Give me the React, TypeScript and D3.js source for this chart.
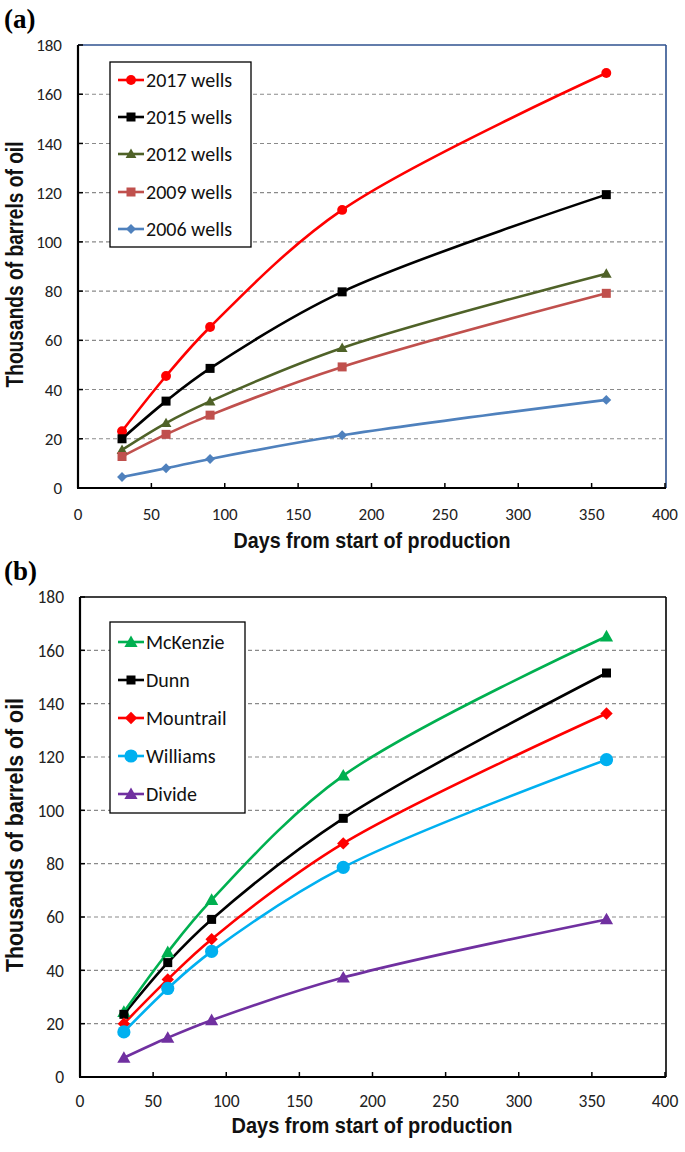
import React, { useEffect } from "react";
import * as d3 from "d3";

const days = [30, 60, 90, 180, 360];
const xTicks = [0, 50, 100, 150, 200, 250, 300, 350, 400];
const yTicks = [0, 20, 40, 60, 80, 100, 120, 140, 160, 180];

const seriesANames = ["2017 wells", "2015 wells", "2012 wells", "2009 wells", "2006 wells"];
const wells2017 = [23.1, 45.5, 65.4, 113, 168.6];
const wells2015 = [20, 35.3, 48.6, 79.7, 119.2];
const wells2012 = [15.5, 26.4, 35.2, 56.9, 87.1];
const wells2009 = [12.8, 21.8, 29.6, 49.2, 79.1];
const wells2006 = [4.5, 8, 11.8, 21.4, 35.8];

const seriesBNames = ["McKenzie", "Dunn", "Mountrail", "Williams", "Divide"];
const mckenzie = [24.4, 46.8, 66.4, 113, 165.2];
const dunn = [23.5, 42.9, 59.1, 97, 151.5];
const mountrail = [20, 36.6, 51.7, 87.6, 136.3];
const williams = [16.9, 33.2, 47.1, 78.6, 119];
const divide = [7.2, 14.7, 21.3, 37.3, 59.1];

type Marker = "circle" | "square" | "triangle" | "diamond";
interface Series { name: string; values: number[]; color: string; marker: Marker; }

const seriesA: Series[] = [
  { name: seriesANames[0], values: wells2017, color: "#FF0000", marker: "circle" },
  { name: seriesANames[1], values: wells2015, color: "#000000", marker: "square" },
  { name: seriesANames[2], values: wells2012, color: "#4F6228", marker: "triangle" },
  { name: seriesANames[3], values: wells2009, color: "#C0504D", marker: "square" },
  { name: seriesANames[4], values: wells2006, color: "#4F81BD", marker: "diamond" },
];
const seriesB: Series[] = [
  { name: seriesBNames[0], values: mckenzie, color: "#00B050", marker: "triangle" },
  { name: seriesBNames[1], values: dunn, color: "#000000", marker: "square" },
  { name: seriesBNames[2], values: mountrail, color: "#FF0000", marker: "diamond" },
  { name: seriesBNames[3], values: williams, color: "#00B0F0", marker: "circle" },
  { name: seriesBNames[4], values: divide, color: "#7030A0", marker: "triangle" },
];

const tickFont = "Carlito, Lato, 'Open Sans', sans-serif";
const titleFont = "'Liberation Sans Narrow', 'Arial Narrow', 'Liberation Sans', sans-serif";

function MarkerShape({ type, x, y, color, size }: { type: Marker; x: number; y: number; color: string; size: number }) {
  if (type === "circle") return <circle cx={x} cy={y} r={size * 0.55} fill={color} />;
  if (type === "square") return <rect x={x - size / 2} y={y - size / 2} width={size} height={size} fill={color} />;
  if (type === "triangle") {
    const h = size * 1.0;
    return <path d={`M${x},${y - h * 0.6} L${x + size * 0.6},${y + h * 0.45} L${x - size * 0.6},${y + h * 0.45} Z`} fill={color} />;
  }
  const s = size * 0.62;
  return <path d={`M${x},${y - s} L${x + s},${y} L${x},${y + s} L${x - s},${y} Z`} fill={color} />;
}

interface PanelProps {
  label: string;
  series: Series[];
  top: number;
  bottom: number;
  left: number;
  right: number;
  borderColor: string;
  legend: { x0: number; y0: number; x1: number; y1: number; rows: number[] };
  markerSizes: number[];
  tickSize: number;
  tickBase: number;
  xTitleBase: number;
  xTitleLen: number;
  yTitleLen: number;
}

function Panel({ label, series, top, bottom, left, right, borderColor, legend, markerSizes, tickSize, tickBase, xTitleBase, xTitleLen, yTitleLen }: PanelProps) {
  const x = d3.scaleLinear().domain([0, 400]).range([left, right]);
  const y = d3.scaleLinear().domain([0, 180]).range([bottom, top]);
  const line = d3
    .line<number>()
    .x((_, i) => x(days[i]))
    .y((v) => y(v))
    .curve(d3.curveCatmullRom.alpha(0.5));
  return (
    <g>
      <text x={4} y={top - 17} fontFamily="'Liberation Serif', 'DejaVu Serif', serif" fontWeight="bold" fontSize={27}>
        {label}
      </text>
      {yTicks.filter((t) => t > 0 && t < 180).map((t) => (
        <line key={t} x1={left} x2={right} y1={y(t)} y2={y(t)} stroke="#8a8a8a" strokeWidth={1.1} strokeDasharray="4,3" />
      ))}
      <line x1={left} x2={right + 1} y1={top} y2={top} stroke={borderColor} strokeWidth={1.6} />
      <line x1={right + 1} x2={right + 1} y1={top} y2={bottom} stroke={borderColor} strokeWidth={1.6} />
      <line x1={left} x2={left} y1={top} y2={bottom} stroke="#000" strokeWidth={2.2} />
      <line x1={left - 1} x2={right + 1} y1={bottom} y2={bottom} stroke="#000" strokeWidth={2.2} />
      {yTicks.map((t) => (
        <g key={t}>
          <line x1={left} x2={left + 5} y1={y(t)} y2={y(t)} stroke="#000" strokeWidth={1.5} />
          <text x={left - 16} y={y(t)} dy="0.36em" textAnchor="end" fontFamily={tickFont} fontSize={tickSize} fill="#222">
            {t}
          </text>
        </g>
      ))}
      {xTicks.map((t) => (
        <g key={t}>
          <line x1={x(t)} x2={x(t)} y1={bottom} y2={bottom - 5} stroke="#000" strokeWidth={1.5} />
          <text x={x(t)} y={bottom + tickBase} textAnchor="middle" fontFamily={tickFont} fontSize={tickSize} fill="#222">
            {t}
          </text>
        </g>
      ))}
      <text
        x={372}
        y={bottom + xTitleBase}
        textAnchor="middle"
        fontFamily={titleFont}
        fontWeight="bold"
        fontSize={22.5}
        textLength={xTitleLen}
        lengthAdjust="spacingAndGlyphs"
        fill="#111"
      >
        Days from start of production
      </text>
      <text
        transform={`translate(23,${(top + bottom) / 2 - 2}) rotate(-90)`}
        textAnchor="middle"
        fontFamily={titleFont}
        fontWeight="bold"
        fontSize={23}
        textLength={yTitleLen}
        lengthAdjust="spacingAndGlyphs"
        fill="#111"
      >
        Thousands of barrels of oil
      </text>
      {series.slice().reverse().map((s) => (
        <path key={s.name} d={line(s.values) || ""} fill="none" stroke={s.color} strokeWidth={2.6} />
      ))}
      {series.map((s, si) =>
        s.values.map((v, i) => (
          <MarkerShape key={s.name + i} type={s.marker} x={x(days[i])} y={y(v)} color={s.color} size={markerSizes[si]} />
        ))
      )}
      <rect x={legend.x0} y={legend.y0} width={legend.x1 - legend.x0} height={legend.y1 - legend.y0} fill="#fff" stroke="#000" strokeWidth={1.3} />
      {series.map((s, si) => (
        <g key={s.name}>
          <line x1={legend.x0 + 8} x2={legend.x0 + 34} y1={legend.rows[si]} y2={legend.rows[si]} stroke={s.color} strokeWidth={2.6} />
          <MarkerShape type={s.marker} x={legend.x0 + 21} y={legend.rows[si]} color={s.color} size={markerSizes[si]} />
          <text x={legend.x0 + 36} y={legend.rows[si]} dy="0.36em" fontFamily={tickFont} fontSize={20} fill="#111">
            {s.name}
          </text>
        </g>
      ))}
    </g>
  );
}

export default function App() {
  useEffect(() => {
    document.body.style.margin = "0";
  }, []);
  return (
    <svg width={685} height={1152} style={{ display: "block", background: "#fff" }}>
      <Panel
        label="(a)"
        series={seriesA}
        top={45}
        bottom={488}
        left={78}
        right={665}
        borderColor="#2F528F"
        legend={{ x0: 110, y0: 62, x1: 251, y1: 247, rows: [80, 117, 154, 192, 229] }}
        markerSizes={[9, 9, 9, 9, 8]}
        tickSize={17}
        tickBase={32}
        xTitleBase={60}
        xTitleLen={277}
        yTitleLen={246}
      />
      <Panel
        label="(b)"
        series={seriesB}
        top={597}
        bottom={1077}
        left={80}
        right={665}
        borderColor="#000"
        legend={{ x0: 110, y0: 622, x1: 245, y1: 813, rows: [642, 680, 718, 756, 794] }}
        markerSizes={[11, 9, 10, 12, 11]}
        tickSize={17.5}
        tickBase={30}
        xTitleBase={56}
        xTitleLen={281}
        yTitleLen={274}
      />
    </svg>
  );
}
